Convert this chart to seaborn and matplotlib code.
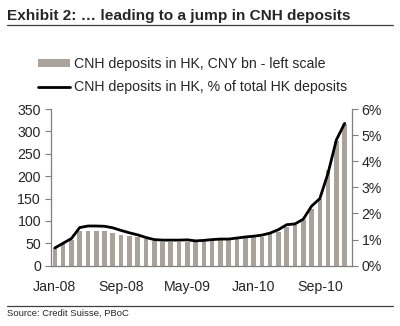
import matplotlib
matplotlib.use("Agg")
import matplotlib.pyplot as plt
import seaborn as sns
import pandas as pd
import numpy as np
from matplotlib.patches import Patch
from matplotlib.lines import Line2D

months = pd.date_range("2008-01-01", "2010-12-01", freq="MS").strftime("%b-%y").tolist()
deposits_bn = [39, 48, 58, 77, 78, 78, 77, 72, 69, 67, 63, 59,
               55, 54, 54, 54, 54, 54, 56, 57, 59, 59, 60, 62,
               63, 65, 70, 76, 86, 91, 101, 127, 148, 214, 279, 316]
deposits_pct = [0.68, 0.86, 1.04, 1.46, 1.52, 1.52, 1.51, 1.45, 1.35, 1.26, 1.18, 1.08,
                1.00, 0.98, 0.98, 0.98, 0.99, 0.95, 0.97, 1.00, 1.02, 1.02, 1.06, 1.10,
                1.13, 1.17, 1.25, 1.38, 1.57, 1.60, 1.78, 2.28, 2.57, 3.55, 4.82, 5.45]
xtick_labels = ["Jan-08", "Sep-08", "May-09", "Jan-10", "Sep-10"]
left_ticks = [0, 50, 100, 150, 200, 250, 300, 350]
right_ticks = [0, 1, 2, 3, 4, 5, 6]

bar_label = "CNH deposits in HK, CNY bn - left scale"
line_label = "CNH deposits in HK, % of total HK deposits"

df = pd.DataFrame({"month": months, "bn": deposits_bn, "pct": deposits_pct,
                   "idx": np.arange(len(months))})

sns.set_style("white")
plt.rcParams["font.family"] = ["Liberation Sans", "DejaVu Sans"]

BAR = "#aaa39c"
AX = "#7f7f7f"
FS = 10.2

fig = plt.figure(figsize=(4.0, 3.26), dpi=100)
ax = fig.add_axes([50.7/400, 1-265.7/326, 301/400, 156.7/326])

sns.barplot(data=df, x="month", y="bn", color=BAR, width=0.56, ax=ax,
            saturation=1, edgecolor="none", order=months)
ax.set_ylim(0, 350)
ax.set_xlim(-0.5, 35.85)
ax.set_yticks(left_ticks)
ax.set_yticklabels([str(v) for v in left_ticks], fontsize=FS)
idx = [months.index(m) for m in ["Jan-08", "Sep-08", "May-09", "Jan-10", "Sep-10"]]
ax.set_xticks(idx)
ax.set_xticklabels(xtick_labels, fontsize=FS)
ax.set_xticks([i - 0.5 for i in idx], minor=True)
ax.tick_params(axis="x", which="major", length=0, pad=10)
ax.tick_params(axis="x", which="minor", length=4, width=0.8, color=AX, direction="out")
ax.tick_params(axis="y", length=4, width=0.8, color=AX, direction="out", pad=3)
ax.set_xlabel("")
ax.set_ylabel("")
for s in ["top", "right"]:
    ax.spines[s].set_visible(False)
for s in ["left", "bottom"]:
    ax.spines[s].set_color(AX)
    ax.spines[s].set_linewidth(0.9)

ax2 = ax.twinx()
sns.lineplot(data=df, x="idx", y="pct", color="black", linewidth=2.0, ax=ax2)
ax2.set_ylim(0, 6)
ax2.set_xlim(-0.5, 35.85)
ax2.set_yticks(right_ticks)
ax2.set_yticklabels([f"{v}%" for v in right_ticks], fontsize=FS)
ax2.tick_params(axis="y", length=4, width=0.8, color=AX, direction="out", pad=3)
ax2.set_ylabel("")
ax2.set_xlabel("")
for s in ["top", "left", "bottom"]:
    ax2.spines[s].set_visible(False)
ax2.spines["right"].set_color(AX)
ax2.spines["right"].set_linewidth(0.9)

handles = [Patch(facecolor=BAR, edgecolor="none"),
           Line2D([0], [0], color="black", linewidth=2)]
fig.legend(handles, [bar_label, line_label], loc="upper left",
           bbox_to_anchor=(38/400, 1-57/326), frameon=False, fontsize=FS,
           handlelength=2.25, handleheight=0.5, handletextpad=0.3,
           labelspacing=0.65, borderpad=0, borderaxespad=0)

fig.text(7/400, 1-16/326, "Exhibit 2: \u2026 leading to a jump in CNH deposits",
         fontsize=11.1, fontweight="bold", va="center", ha="left")
fig.add_artist(Line2D([7/400, 393/400], [1-24.5/326, 1-24.5/326],
                      color="#404040", linewidth=0.9))
fig.add_artist(Line2D([7/400, 393/400], [1-305.7/326, 1-305.7/326],
                      color="#404040", linewidth=0.9))
fig.text(7/400, 1-313.5/326, "Source: Credit Suisse, PBoC",
         fontsize=6.8, va="center", ha="left")

fig.savefig("out.png", dpi=100)
